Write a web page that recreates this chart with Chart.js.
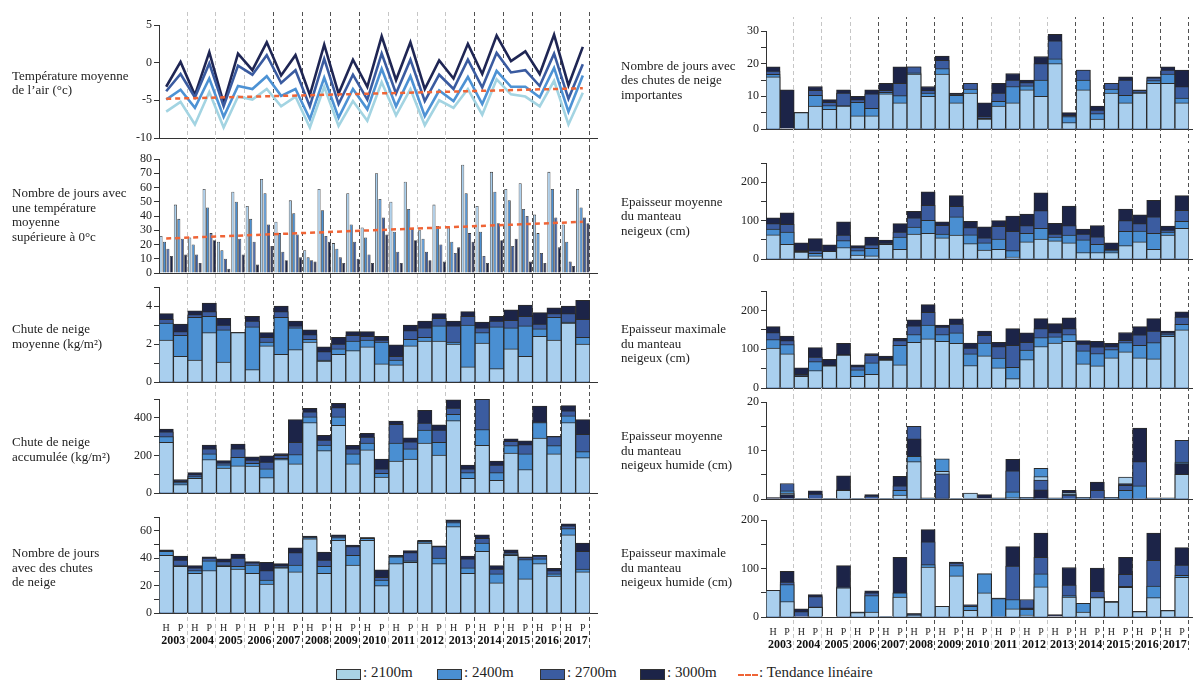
<!DOCTYPE html>
<html><head><meta charset="utf-8">
<script src="https://cdn.jsdelivr.net/npm/chart.js@4.4.0/dist/chart.umd.min.js"></script>
<style>
html,body{margin:0;padding:0;background:#fff;}
body{width:1193px;height:681px;overflow:hidden;position:relative;font-family:"Liberation Serif","Times New Roman",serif;color:#222;}
.lbl{position:absolute;font-size:13px;line-height:14.5px;white-space:nowrap;}
canvas{position:absolute;}
.lg{position:absolute;top:669px;width:25px;height:11px;border:1px solid #333;box-sizing:border-box;}
.lt{position:absolute;top:664px;font-size:15px;line-height:17px;white-space:nowrap;}
</style></head>
<body>
<script>
// ---------- categories ----------
const categories = ['H','P','H','P','H','P','H','P','H','P','H','P','H','P','H','P','H','P','H','P','H','P','H','P','H','P','H','P','H','P'];
const years = ['2003','2004','2005','2006','2007','2008','2009','2010','2011','2012','2013','2014','2015','2016','2017'];
const seriesNames = ['2100m','2400m','2700m','3000m'];

// ---------- Température moyenne de l'air (°c) ----------
const temp2100 = [-6.5,-5.2,-8.2,-3.9,-8.6,-4.5,-4.9,-3.5,-5.8,-4.5,-8.6,-3.2,-8.4,-5.1,-7.7,-2.6,-7.0,-3.5,-8.3,-5.0,-6.0,-3.5,-6.9,-2.2,-4.2,-4.5,-5.8,-2.4,-8.2,-4.0];
const temp2400 = [-4.9,-3.6,-6.0,-2.1,-7.2,-3.1,-3.5,-1.8,-4.4,-3.5,-7.5,-2.0,-7.3,-3.5,-6.2,-0.8,-5.8,-1.8,-7.1,-3.7,-5.1,-1.9,-5.5,-1.1,-3.2,-3.2,-4.6,-0.7,-6.5,-1.7];
const temp2700 = [-3.8,-1.5,-4.6,-0.1,-5.8,-0.4,-1.6,1.0,-2.7,-1.0,-5.8,0.5,-5.5,-1.6,-4.9,1.2,-4.1,0.4,-5.1,-1.6,-3.5,0.4,-3.3,1.3,-1.3,-1.0,-3.1,1.2,-4.8,-0.2];
const temp3000 = [-3.2,0.1,-4.3,1.4,-5.4,1.2,-1.0,2.7,-1.7,1.0,-4.3,2.4,-4.1,0.4,-3.2,3.5,-2.3,2.7,-3.5,0.3,-2.1,2.5,-1.5,3.6,0.2,1.5,-1.5,3.7,-3.0,2.1];
const tempTrend = [-4.8,null,null,null,null,null,null,null,null,null,null,null,null,null,null,null,null,null,null,null,null,null,null,null,null,null,null,null,null,-3.4];

// ---------- Nombre de jours avec une température moyenne supérieure à 0°c ----------
const warm2100 = [26,48,25,59,22,57,47,66,36,51,16,59,21,56,32,70,50,64,30,48,32,76,47,71,59,63,41,71,34,59];
const warm2400 = [22,38,20,46,16,50,38,56,28,42,11,44,17,34,25,52,29,45,24,33,22,56,29,57,51,45,28,59,22,46];
const warm2700 = [17,24,13,28,10,24,22,34,15,27,9,26,11,22,13,39,15,31,15,20,14,28,12,35,19,40,14,39,8,39];
const warm3000 = [12,13,7,23,3,13,6,19,9,11,8,22,7,10,7,27,7,23,9,8,18,22,7,23,24,8,7,18,5,35];
const warmTrend = [24.2,null,null,null,null,null,null,null,null,null,null,null,null,null,null,null,null,null,null,null,null,null,null,null,null,null,null,null,null,35.9];

// ---------- Chute de neige moyenne (kg/m²) ----------
const mean2100 = [2.2,1.35,1.15,2.6,1.05,2.6,0.65,1.9,1.45,1.7,2.1,1.1,1.45,1.65,1.85,0.95,0.9,1.9,2.15,2.15,2.0,0.8,2.05,0.7,1.75,1.35,2.4,2.2,3.1,2.0];
const mean2400 = [3.1,2.45,3.4,3.45,2.75,2.6,2.9,2.1,3.4,2.85,2.25,1.15,1.75,2.15,2.2,2.1,1.15,2.25,2.35,2.95,2.1,3.0,2.6,2.9,2.85,2.95,2.8,3.4,3.15,2.35];
const mean2700 = [3.3,2.65,3.55,3.7,3.0,2.6,3.2,2.35,3.7,2.95,2.5,1.6,2.0,2.45,2.4,2.2,1.35,2.7,2.85,3.35,2.95,3.45,2.85,3.2,3.25,3.45,3.05,3.6,3.6,3.3];
const mean3000 = [3.6,3.05,3.75,4.15,3.35,2.6,3.45,2.6,4.0,3.2,2.75,1.85,2.35,2.65,2.65,2.4,1.95,3.0,3.2,3.6,3.2,3.7,3.15,3.45,3.8,4.05,3.65,3.9,4.0,4.3];

// ---------- Chute de neige accumulée (kg/m²) ----------
const acc2100 = [270,45,78,178,132,145,143,82,178,155,375,225,360,155,230,85,170,180,265,202,385,78,253,68,213,125,292,208,375,188];
const acc2400 = [300,55,88,208,150,190,158,128,185,205,405,255,405,208,265,105,265,235,335,270,418,108,338,108,252,208,375,252,410,220];
const acc2700 = [325,62,98,235,160,235,175,165,200,270,432,282,455,235,297,128,365,272,372,335,452,128,498,148,275,257,378,300,437,312];
const acc3000 = [340,72,108,255,172,260,192,198,210,390,450,307,477,253,317,180,383,293,440,362,495,148,498,170,288,277,462,302,465,390];

// ---------- Nombre de jours avec des chutes de neige ----------
const snowDays2100 = [42,34,29,31,34,32,29,21,33,30,54,29,53,35,53,20,36,37,51,36,63,29,45,22,42,25,36,27,57,30];
const snowDays2400 = [45,35,31,38,35,34,35,24,33.5,35,55,34,55,42,54.5,24,41,38,52,40,66,33,51,28.5,43,39,39.5,28.5,61.5,32];
const snowDays2700 = [45.5,38.5,33,40,37.5,40,36.5,31,34.5,44,55.5,38.5,56,48.5,55,26,41.5,44,52.5,48.5,67,39.5,54.5,32,44,40.5,41.5,31,63.5,45];
const snowDays3000 = [46,41.5,34.5,41,39.5,43,37.5,37,36,47.5,56,44.5,57,49.5,55,31.5,42,45.5,53,49,68,41.5,57,34.5,46,41,42,32.5,65,51];

// ---------- Nombre de jours avec des chutes de neige importantes ----------
const heavy2100 = [16,0,5,7,6,7,4,4,10.8,8,16.8,10,16.8,8,11,3,7,8,12,10,20,2,12,3,11,8,11,14,14,8];
const heavy2400 = [16.7,0,5,10.3,7.2,7.2,8.2,6.3,11.2,10.2,17.2,11,18.5,10.3,12.2,3.3,8.5,13,13.2,15,21.5,3.8,15,4.7,12.2,10.3,11.3,14.8,16.8,9.5];
const heavy2700 = [17.7,0,5,11.8,8.2,11,9,10.8,11.8,14,19,11.8,21,10.7,14,3.8,11,15,14.2,20,27,4.2,18,5.8,14,15,11.8,15.7,18,13];
const heavy3000 = [19,12,5,13,9,12,10,12,14,19,19,13,22.3,11,14,8,14,17,15,22.2,29,5,18,7,14,16,12,16,19,18];

// ---------- Epaisseur moyenne du manteau neigeux (cm) ----------
const depth2100 = [63,38,18,8,20,30,10,8,38,25,65,67,55,62,40,23,25,5,45,52,47,42,17,17,17,35,45,25,62,80];
const depth2400 = [78,70,20,15,20,48,22,28,40,57,83,101,65,110,63,42,52,22,67,80,57,62,50,38,22,72,73,67,70,98];
const depth2700 = [92,90,22,22,20,62,30,37,42,70,107,140,88,137,82,55,85,72,87,126,65,87,65,58,25,100,92,110,75,127];
const depth3000 = [107,120,42,53,37,97,35,57,49,92,124,175,97,165,98,84,100,112,117,172,93,138,78,87,42,130,115,153,86,165];

// ---------- Epaisseur maximale du manteau neigeux (cm) ----------
const maxDepth2100 = [103,88,30,45,57,85,30,35,72,60,118,127,120,115,58,83,52,24,73,107,116,120,62,57,78,93,78,75,133,150];
const maxDepth2400 = [125,112,32,68,57,85,47,65,74,110,138,162,138,142,88,116,77,53,98,130,132,138,96,89,99,117,110,117,138,164];
const maxDepth2700 = [143,122,35,80,58,86,55,84,76,122,160,195,157,165,103,136,107,110,118,153,143,153,113,106,107,123,137,147,142,183];
const maxDepth3000 = [158,134,52,104,74,115,60,89,82,128,176,215,162,178,116,147,118,153,142,179,166,181,122,120,115,143,158,179,147,196];

// ---------- Epaisseur moyenne du manteau neigeux humide (cm) ----------
const wet2100 = [0,1.2,0.1,0,0.1,1.8,0.1,0,0.1,0.8,7.7,0.2,5.7,0.1,1.2,0,0.2,0.3,0.3,4.6,0.2,1.3,0.3,0,0.3,4.5,0,0.2,0.2,5.1];
const wet2400 = [0,1.7,0.1,0,0.1,1.9,0.1,0,0.1,1.8,8.8,0.2,8.3,0.1,0.1,0,0.2,1.5,0.3,6.3,0.2,1.0,0.3,0,0.3,1.8,2.7,0.2,0.2,7.6];
const wet2700 = [0.1,3.2,0.1,1.0,0.1,0,0.1,0.6,0.1,2.7,15.0,0.2,5.2,0.1,0.1,0.1,0.2,5.8,0.3,3.9,0.2,0.8,0.3,1.8,0.3,2.8,7.7,0.2,0.2,12.1];
const wet3000 = [0.3,0.9,0.1,1.7,0.1,4.8,0.1,0.9,0.1,4.7,12.4,0.2,0.2,0.1,0.1,0.9,0.2,8.2,0.3,1.9,0.2,1.8,0.3,3.5,0.3,3.2,14.6,0.2,0.2,7.3];

// ---------- Epaisseur maximale du manteau neigeux humide (cm) ----------
const wetMax2100 = [55,32,0,20,0,60,9,10,1,41,3,103,22,85,14,50,0,17,4,62,0,41,10,40,31,61,11,40,13,82];
const wetMax2400 = [55,67,0,21,0,0,10,44,1,50,5,108,22,106,22,89,38,36,16,89,0,44,28,41,32,63,11,64,13,86];
const wetMax2700 = [55,72,11,42,0,62,10,50,1,50,7,155,22,111,25,89,39,105,36,123,0,66,28,53,32,88,11,117,13,107];
const wetMax3000 = [55,94,17,46,0,106,10,54,1,123,7,180,22,113,25,89,39,145,19,173,5,102,28,101,32,123,11,173,13,143];

// ---------- styles ----------
const BAR_COLORS = ['#a9cfee','#4a8fd2','#3b5ca0','#1c2448'];
const LINE_COLORS = ['#a3d4e2','#4d92d4','#3a5ba0','#1f2654'];
const TREND_COLOR = '#ef6436';
const EDGE = '#2a2a2a';
const FONT = '"Liberation Serif","Times New Roman",serif';
Chart.defaults.font.family = FONT;
Chart.defaults.color = '#222';

const LEFT_DARK = [4,5,6,7,11,12,13,14,15];
const RIGHT_DARK = [4,5,6,7,11,12,13,14,15];

function yearLines(from, to, dark, ext, hp){
  return {
    id:'yearLines',
    beforeDatasetsDraw(chart){
      const xs = chart.scales.x, ctx = chart.ctx, ca = chart.chartArea;
      const w = xs.getPixelForValue(1) - xs.getPixelForValue(0);
      ctx.save();
      ctx.strokeStyle = '#333'; ctx.lineWidth = 1;
      ctx.beginPath(); ctx.moveTo(ca.right, Math.round(ca.bottom)+0.5); ctx.lineTo(ca.right+ext, Math.round(ca.bottom)+0.5); ctx.stroke();
      ctx.setLineDash([4,3]);
      for(let k=1;k<=15;k++){
        const x = Math.round(xs.getPixelForValue(2*k-1) + w/2) - 0.5;
        ctx.strokeStyle = dark.includes(k) ? '#505050' : '#c6c6c6';
        ctx.beginPath(); ctx.moveTo(x, from); ctx.lineTo(x, to); ctx.stroke();
      }
      ctx.restore();
      if(hp){
        ctx.save();
        ctx.font = '10px '+FONT; ctx.fillStyle = '#222';
        ctx.textAlign = 'center'; ctx.textBaseline = 'middle';
        categories.forEach((c,i)=>ctx.fillText(c, xs.getPixelForValue(i), ca.bottom + 15));
        ctx.restore();
      }
    }
  };
}

function layered(series){
  const n = series[0].length;
  const layers = [0,1,2,3].map(()=>({data:[],bg:[]}));
  for(let i=0;i<n;i++){
    const idx = [0,1,2,3].sort((a,b)=>series[a][i]-series[b][i]);
    idx.forEach((s,k)=>{ layers[k].data.push(series[s][i]); layers[k].bg.push(BAR_COLORS[s]); });
  }
  return layers.map((l,k)=>({
    type:'bar', label:'niveau '+(k+1), data:l.data, backgroundColor:l.bg,
    borderColor:EDGE, borderWidth:1, grouped:false, categoryPercentage:1, barPercentage:1,
    order:k+1, xAxisID:'x', yAxisID:'y'
  }));
}

const PADT = 14;
function makePanel(p){
  const xh = p.xLabels ? 44 : 14;
  const top = p.axisTop - PADT;
  const height = p.axisBottom - p.axisTop + PADT + xh;
  const c = document.createElement('canvas');
  c.width = p.canvasRight - p.canvasLeft; c.height = height;
  c.style.left = p.canvasLeft+'px'; c.style.top = top+'px';
  c.style.width = c.width+'px'; c.style.height = height+'px';
  document.body.appendChild(c);
  const scales = {
    x: {
      type:'category', labels:categories, offset:true, weight:0,
      afterFit: s=>{ s.height = p.xLabels ? 15 : xh; },
      grid:{display:false, drawTicks:false}, border:{display:true,color:'#333',width:1},
      ticks:{display:false}
    },
    y: {
      min:p.min, max:p.max, afterFit: s=>{ s.width = p.yw; },
      grid:{drawOnChartArea:false, drawTicks:true, tickLength:5, color:'#333', lineWidth:1},
      border:{display:true,color:'#333',width:1},
      ticks:{stepSize:p.step, autoSkip:false, padding:2, color:'#222', font:{size:12},
        callback: v => (p.show.includes(v) ? String(v) : '')}
    }
  };
  if(p.xLabels){
    scales.xyr = {
      type:'category', labels:years, offset:true, position:'bottom', weight:2,
      afterFit: s=>{ s.height = 29; },
      grid:{display:false, drawTicks:false}, border:{display:false},
      ticks:{autoSkip:false, maxRotation:0, minRotation:0, padding:6, color:'#111', font:{size:12, weight:'bold'}}
    };
  }
  new Chart(c, {
    type: p.type,
    data: {labels:categories, datasets:p.datasets},
    options: {
      responsive:false, animation:false, devicePixelRatio:1,
      layout:{padding:{top:PADT, left:0, right:p.padR, bottom:0}},
      plugins:{legend:{display:false}, tooltip:{enabled:false}},
      scales
    },
    plugins:[yearLines(p.band[0]-top, p.band[1]-top, p.dark, p.ext, !!p.xLabels)]
  });
}

const L = {canvasLeft:100, canvasRight:600, yw:59, padR:10, ext:8, dark:LEFT_DARK};
const R = {canvasLeft:700, canvasRight:1193, yw:66, padR:4, ext:4, dark:RIGHT_DARK};

function lineDs(data, color, label){
  return {type:'line', label, data, borderColor:color, backgroundColor:color, borderWidth:2.6,
    pointRadius:0, tension:0, xAxisID:'x', yAxisID:'y', order:0};
}
function trendDs(data){
  return {type:'line', label:'Tendance linéaire', data, borderColor:TREND_COLOR, borderWidth:2.5,
    borderDash:[5,4], pointRadius:0, spanGaps:true, xAxisID:'x', yAxisID:'y', order:-1};
}

// left column
makePanel(Object.assign({}, L, {type:'line', axisTop:25, axisBottom:138, min:-10, max:5, step:5, show:[-10,-5,0,5], band:[12,148],
  datasets:[trendDs(tempTrend), lineDs(temp2100,LINE_COLORS[0],'2100m'), lineDs(temp2400,LINE_COLORS[1],'2400m'), lineDs(temp2700,LINE_COLORS[2],'2700m'), lineDs(temp3000,LINE_COLORS[3],'3000m')]}));

const warmSeries = [warm2100,warm2400,warm2700,warm3000];
makePanel(Object.assign({}, L, {type:'bar', axisTop:159, axisBottom:273, min:0, max:80, step:10, show:[0,10,20,30,40,50,60,70,80], band:[148,280],
  datasets:[trendDs(warmTrend)].concat(warmSeries.map((d,s)=>({type:'bar', label:seriesNames[s], data:d, backgroundColor:BAR_COLORS[s],
    borderColor:'#3a3a3a', borderWidth:0.8, categoryPercentage:0.96, barPercentage:0.9, order:1, xAxisID:'x', yAxisID:'y'})))}));

makePanel(Object.assign({}, L, {type:'bar', axisTop:287, axisBottom:382, min:0, max:5, step:1, show:[0,2,4], band:[280,392],
  datasets:layered([mean2100,mean2400,mean2700,mean3000])}));
makePanel(Object.assign({}, L, {type:'bar', axisTop:399, axisBottom:493, min:0, max:500, step:100, show:[0,200,400], band:[392,505],
  datasets:layered([acc2100,acc2400,acc2700,acc3000])}));
makePanel(Object.assign({}, L, {type:'bar', axisTop:517, axisBottom:613, min:0, max:70, step:10, show:[0,20,40,60], band:[505,648], xLabels:true,
  datasets:layered([snowDays2100,snowDays2400,snowDays2700,snowDays3000])}));

// right column
makePanel(Object.assign({}, R, {type:'bar', axisTop:31, axisBottom:129, min:0, max:30, step:5, show:[0,10,20,30], band:[15,148],
  datasets:layered([heavy2100,heavy2400,heavy2700,heavy3000])}));
makePanel(Object.assign({}, R, {type:'bar', axisTop:163, axisBottom:259, min:0, max:250, step:50, show:[0,100,200], band:[148,275],
  datasets:layered([depth2100,depth2400,depth2700,depth3000])}));
makePanel(Object.assign({}, R, {type:'bar', axisTop:291, axisBottom:388, min:0, max:250, step:50, show:[0,100,200], band:[275,395],
  datasets:layered([maxDepth2100,maxDepth2400,maxDepth2700,maxDepth3000])}));
makePanel(Object.assign({}, R, {type:'bar', axisTop:402, axisBottom:499, min:0, max:20, step:5, show:[0,10,20], band:[395,508],
  datasets:layered([wet2100,wet2400,wet2700,wet3000])}));
makePanel(Object.assign({}, R, {type:'bar', axisTop:520, axisBottom:617, min:0, max:200, step:50, show:[0,100,200], band:[508,650], xLabels:true,
  datasets:layered([wetMax2100,wetMax2400,wetMax2700,wetMax3000])}));

// panel titles
const titles = [
  [12, 68.5, ['Température moyenne','de l’air (°c)']],
  [12, 186, ['Nombre de jours avec','une température','moyenne','supérieure à 0°c']],
  [12, 322, ['Chute de neige','moyenne (kg/m²)']],
  [12, 435, ['Chute de neige','accumulée (kg/m²)']],
  [12, 546, ['Nombre de jours','avec des chutes','de neige']],
  [621, 58.5, ['Nombre de jours avec','des chutes de neige','importantes']],
  [621, 194.5, ['Epaisseur moyenne','du manteau','neigeux (cm)']],
  [621, 322, ['Epaisseur maximale','du manteau','neigeux (cm)']],
  [621, 429, ['Epaisseur moyenne','du manteau','neigeux humide (cm)']],
  [621, 546, ['Epaisseur maximale','du manteau','neigeux humide (cm)']]
];
titles.forEach(([x,y,lines])=>{
  const d = document.createElement('div');
  d.className='lbl'; d.style.left=x+'px'; d.style.top=y+'px';
  d.innerHTML = lines.join('<br>');
  document.body.appendChild(d);
});

// legend
const legendBoxes = [[336,'#a9d3e4'],[437,BAR_COLORS[1]],[540,BAR_COLORS[2]],[640,BAR_COLORS[3]]];
legendBoxes.forEach(([x,col],i)=>{
  const b=document.createElement('div'); b.className='lg'; b.style.left=x+'px'; b.style.background=col; document.body.appendChild(b);
  const t=document.createElement('div'); t.className='lt'; t.style.left=(x+27)+'px'; t.textContent=': '+seriesNames[i]; document.body.appendChild(t);
});
const tr=document.createElement('div'); tr.style.cssText='position:absolute;left:738px;top:674px;width:20px;height:0;border-top:2px dashed '+TREND_COLOR+';';
document.body.appendChild(tr);
const tt=document.createElement('div'); tt.className='lt'; tt.style.left='759px'; tt.textContent=': Tendance linéaire'; document.body.appendChild(tt);
</script>
</body></html>
